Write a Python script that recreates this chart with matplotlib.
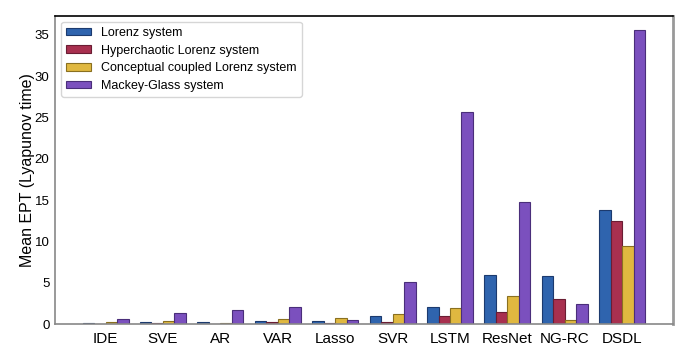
import numpy as np
import matplotlib.pyplot as plt

plt.rcParams['font.family'] = ['Liberation Sans', 'DejaVu Sans']

methods = ['IDE', 'SVE', 'AR', 'VAR', 'Lasso', 'SVR', 'LSTM', 'ResNet', 'NG-RC', 'DSDL']
series_names = ['Lorenz system', 'Hyperchaotic Lorenz system',
                'Conceptual coupled Lorenz system', 'Mackey-Glass system']

lorenz = [0.08, 0.2, 0.2, 0.4, 0.32, 0.92, 2.0, 5.9, 5.85, 13.8]
hyper = [0.05, 0.08, 0.02, 0.24, 0.12, 0.28, 0.97, 1.41, 3.06, 12.45]
coupled = [0.28, 0.36, 0.12, 0.6, 0.68, 1.25, 1.95, 3.4, 0.44, 9.4]
mackey = [0.56, 1.37, 1.73, 2.0, 0.44, 5.12, 25.7, 14.8, 2.42, 35.6]

colors = ['#2f64ae', '#a8304f', '#e0b840', '#7b50be']
edges = ['#1c3a6e', '#6a1d33', '#8a7020', '#4a2e7a']

fig = plt.figure(figsize=(7, 3.55), dpi=100)
ax = fig.add_axes([0.0786, 0.0873, 0.8825, 0.868])

x = np.arange(len(methods))
w = 0.2
for i, vals in enumerate([lorenz, hyper, coupled, mackey]):
    ax.bar(x + (i - 1.5) * w, vals, w, color=colors[i], edgecolor=edges[i],
           linewidth=0.8, label=series_names[i])

ax.set_xlim(-0.88, 9.88)
ax.set_ylim(0, 37.3)
ax.set_xticks(x)
ax.set_xticklabels(methods, fontsize=11)
ax.set_yticks(range(0, 36, 5))
ax.tick_params(axis='y', labelsize=9.5, length=0, pad=4)
ax.tick_params(axis='x', length=0, pad=6)
ax.set_ylabel('Mean EPT (Lyapunov time)', fontsize=11.5, labelpad=0)

ax.spines['top'].set_color('black')
ax.spines['top'].set_linewidth(1.2)
for s in ['left', 'bottom']:
    ax.spines[s].set_color('#888888')
    ax.spines[s].set_linewidth(1.2)
ax.spines['right'].set_color('#999999')
ax.spines['right'].set_linewidth(2)

ax.legend(loc='upper left', fontsize=9, frameon=True, fancybox=True,
          handlelength=2.0, handleheight=0.56, handletextpad=0.8,
          borderpad=0.4, labelspacing=0.45, borderaxespad=0,
          bbox_to_anchor=(0.0097, 0.9805))

fig.savefig('out.png', dpi=100)
